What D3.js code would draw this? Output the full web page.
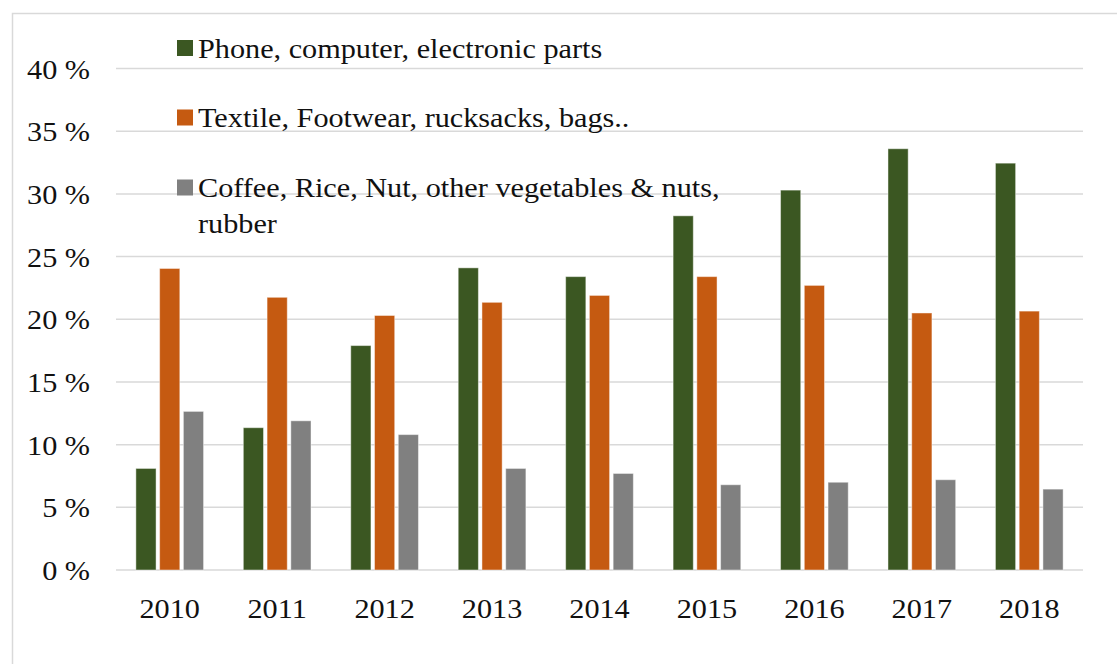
<!DOCTYPE html>
<html>
<head>
<meta charset="utf-8">
<script src="https://cdn.jsdelivr.net/npm/d3@7"></script>
<style>
  html, body { margin: 0; padding: 0; background: #fff; }
  svg { display: block; }
  svg text { font-family: "Liberation Serif", "Times New Roman", Tinos, "DejaVu Serif", serif !important; fill: #111; }
</style>
</head>
<body>
<svg id="chart" width="1117" height="664"></svg>
<script>
// Export shares by product group, 2010–2018 (percent)
const years = ["2010", "2011", "2012", "2013", "2014", "2015", "2016", "2017", "2018"];
const seriesNames = [
  "Phone, computer, electronic parts",
  "Textile, Footwear, rucksacks, bags..",
  "Coffee, Rice, Nut, other vegetables & nuts, rubber"
];
const electronics = [8.1, 11.35, 17.9, 24.1, 23.4, 28.25, 30.3, 33.6, 32.45];
const textiles    = [24.05, 21.75, 20.3, 21.35, 21.9, 23.4, 22.7, 20.5, 20.65];
const agriculture = [12.65, 11.9, 10.8, 8.1, 7.7, 6.8, 7.0, 7.2, 6.45];
const yTicks = [0, 5, 10, 15, 20, 25, 30, 35, 40];
const colors = ["#3b5722", "#c55a11", "#808080"];

const values = [electronics, textiles, agriculture];
const rows = years.map((y, i) => ({ year: y, vals: values.map(v => v[i]) }));

const svg = d3.select("#chart");
const plot = { left: 116, right: 1083, top: 68.5, bottom: 570 };
const serif = "'Liberation Serif', 'Times New Roman', Tinos, 'DejaVu Serif', serif";
const stretch = "scale(1.08,1)"; // slightly widened glyphs

// outer chart frame
svg.append("rect")
  .attr("x", 12.5).attr("y", 13.5)
  .attr("width", 1200).attr("height", 800)
  .attr("fill", "none").attr("stroke", "#d9d9d9").attr("stroke-width", 1.5);

const y = d3.scaleLinear().domain([0, 40]).range([plot.bottom, plot.top]);
const x0 = d3.scaleBand().domain(years).range([plot.left, plot.right])
  .paddingInner(0.37).paddingOuter(0.185);
const x1 = d3.scaleBand().domain(d3.range(3)).range([0, x0.bandwidth()]).paddingInner(0.15);

// horizontal gridlines
svg.append("g").selectAll("line").data(yTicks).join("line")
  .attr("x1", plot.left).attr("x2", plot.right)
  .attr("y1", d => y(d)).attr("y2", d => y(d))
  .attr("stroke", "#d9d9d9").attr("stroke-width", 1.5);

// y axis labels
const yAxis = d3.axisLeft(y).tickValues(yTicks).tickFormat(d => d + " %").tickSize(0).tickPadding(0);
const gy = svg.append("g").attr("transform", "translate(90,0)").call(yAxis)
  .attr("font-family", serif);
gy.select(".domain").remove();
gy.selectAll("text").attr("font-size", 28).attr("fill", "#111")
  .attr("dy", "0.34em").attr("transform", stretch);

// x axis labels
const xAxis = d3.axisBottom(x0).tickSize(0).tickPadding(0);
const gx = svg.append("g").attr("transform", `translate(0,${plot.bottom})`).call(xAxis)
  .attr("font-family", serif);
gx.select(".domain").remove();
gx.selectAll("text").attr("font-size", 28).attr("fill", "#111")
  .attr("dy", "1.7em").attr("transform", stretch);

// bars
const groups = svg.append("g").selectAll("g").data(rows).join("g")
  .attr("transform", d => `translate(${x0(d.year)},0)`);
groups.selectAll("rect").data(d => d.vals.map((v, k) => ({ v, k }))).join("rect")
  .attr("x", d => x1(d.k))
  .attr("width", x1.bandwidth())
  .attr("y", d => y(d.v))
  .attr("height", d => y(0) - y(d.v))
  .attr("fill", d => colors[d.k])
  .attr("stroke", "rgba(255,255,255,0.45)")
  .attr("stroke-width", 1);

// legend
const legendRows = [
  { lines: [seriesNames[0]], cy: 48 },
  { lines: [seriesNames[1]], cy: 117.5 },
  { lines: ["Coffee, Rice, Nut, other vegetables & nuts,", "rubber"], cy: 187.5 }
];
const legend = svg.append("g").attr("font-family", serif);
legendRows.forEach((r, k) => {
  legend.append("rect")
    .attr("x", 177).attr("y", r.cy - 8).attr("width", 16).attr("height", 16)
    .attr("fill", colors[k]);
  const t = legend.append("text")
    .attr("transform", `translate(198,${r.cy + 9.5}) ${stretch}`)
    .attr("font-size", 28);
  r.lines.forEach((ln, j) => {
    t.append("tspan").attr("x", 0).attr("dy", j === 0 ? 0 : 36).text(ln);
  });
});
</script>
</body>
</html>
